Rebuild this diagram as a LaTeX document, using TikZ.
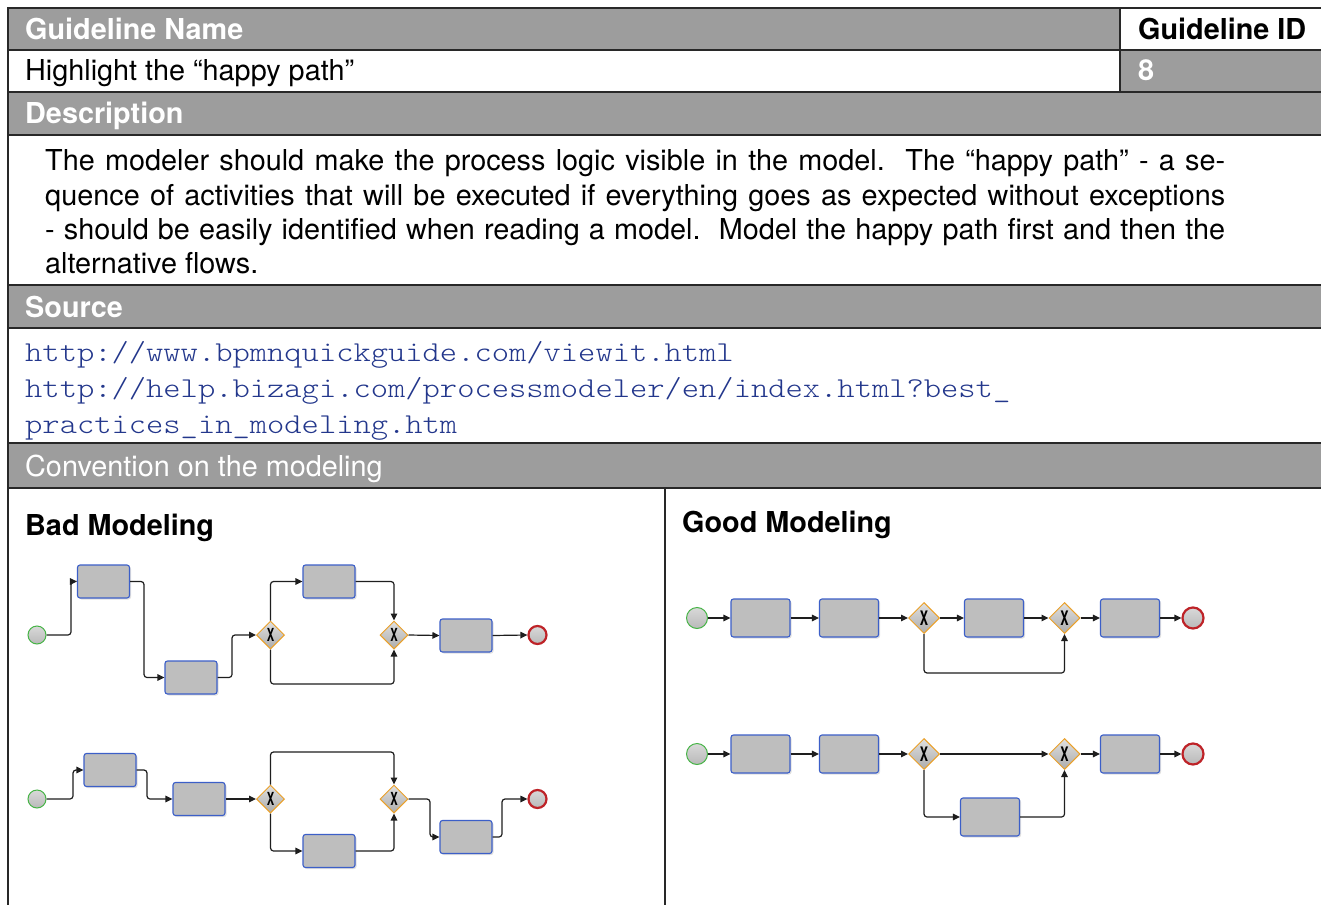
\documentclass[tikz,border=0pt]{standalone}
\usepackage{fontspec}
\setmainfont{TeX Gyre Heros}
\newfontfamily\urlfont[Extension=.otf,FakeStretch=1.143]{lmmonolt10-regular}
\usetikzlibrary{arrows.meta,shapes.geometric,shadows}

\definecolor{hdrgray}{RGB}{157,157,157}
\definecolor{rulecol}{RGB}{40,40,40}
\definecolor{urlblue}{RGB}{35,55,140}
\definecolor{taskfill}{RGB}{190,190,190}
\definecolor{taskedge}{RGB}{60,95,200}
\definecolor{gwedge}{RGB}{235,160,40}
\definecolor{startedge}{RGB}{70,180,70}
\definecolor{endedge}{RGB}{190,35,40}
\definecolor{flowcol}{RGB}{30,30,30}

\newcommand{\gwmark}{\scalebox{0.62}[1]{X}}

\tikzset{
  hdrtxt/.style={anchor=base west, inner sep=0pt, text=white,
    font=\fontsize{28.8}{34}\selectfont\bfseries},
  hdrlight/.style={anchor=base west, inner sep=0pt, text=white,
    font=\fontsize{28.8}{34}\selectfont},
  bodytxt/.style={anchor=base west, inner sep=0pt,
    font=\fontsize{28.8}{34}\selectfont},
  boldtxt/.style={anchor=base west, inner sep=0pt,
    font=\fontsize{28.8}{34}\selectfont\bfseries},
  urltxt/.style={anchor=base west, inner sep=0pt, text=urlblue,
    font=\fontsize{28.8}{34}\urlfont},
  rules/.style={draw=rulecol, line width=1.3pt},
  task/.style={rectangle, rounded corners=2.5pt, draw=taskedge, line width=1.1pt,
    fill=taskfill, inner sep=0pt,
    drop shadow={shadow xshift=1.5pt, shadow yshift=-1.5pt, opacity=0.25}},
  badtask/.style={task, minimum width=52pt, minimum height=33pt},
  goodtask/.style={task, minimum width=59pt, minimum height=38pt},
  gateway/.style={diamond, aspect=1, draw=gwedge, line width=1pt, inner sep=0pt,
    top color=gray!25, bottom color=gray!65},
  badgw/.style={gateway, minimum width=28pt, minimum height=28pt,
    font=\fontsize{18}{18}\selectfont\bfseries},
  goodgw/.style={gateway, minimum width=31pt, minimum height=31pt,
    font=\fontsize{20}{20}\selectfont\bfseries},
  event/.style={circle, inner sep=0pt, top color=gray!30, bottom color=gray!55},
  startev/.style={event, draw=startedge, line width=1pt},
  endev/.style={event, draw=endedge, line width=2.2pt},
  badev/.style={minimum size=18pt},
  goodev/.style={minimum size=21pt},
  flow/.style={draw=flowcol, line width=1.2pt, rounded corners=3pt,
    -{Triangle[length=7pt,width=6.5pt]}}
}

\begin{document}
\begin{tikzpicture}[x=1pt,y=-1pt]
\useasboundingbox (0,0) rectangle (1321,904);
\fill[white] (0,0) rectangle (1321,904);

% grey header bands
\fill[hdrgray] (8,8) rectangle (1120,50);
\fill[hdrgray] (1120,50) rectangle (1330,92);
\fill[hdrgray] (8,92) rectangle (1330,135);
\fill[hdrgray] (8,285) rectangle (1330,328);
\fill[hdrgray] (8,443) rectangle (1330,488);

% table rules
\foreach \yy in {8,50,92,135,285,328,443,488}
  \draw[rules] (7.35,\yy) -- (1330,\yy);
\draw[rules] (8,7.35) -- (8,910);
\draw[rules] (1120,8) -- (1120,92);
\draw[rules] (665,488) -- (665,910);

% header and body texts
\node[hdrtxt] (hname) at (25,39.5) {Guideline Name};
\node[boldtxt] (hid) at (1138,39.5) {Guideline ID};
\node[bodytxt] (gname) at (25,81) {Highlight the “happy path”};
\node[hdrtxt] (gid) at (1138,81) {8};
\node[hdrtxt] (hdesc) at (25,124) {Description};
\node[bodytxt] (d1) at (45,171) {\makebox[1180pt][s]{The modeler should make the process logic visible in the model.\ \ The “happy path” - a se-}};
\node[bodytxt] (d2) at (45,205) {\makebox[1180pt][s]{quence of activities that will be executed if everything goes as expected without exceptions}};
\node[bodytxt] (d3) at (45,239) {\makebox[1180pt][s]{- should be easily identified when reading a model.\ \ Model the happy path first and then the}};
\node[bodytxt] (d4) at (45,273) {alternative flows.};
\node[hdrtxt] (hsrc) at (25,317) {Source};
\node[urltxt] (u1) at (25,361) {http://www.bpmnquickguide.com/viewit.html};
\node[urltxt] (u2) at (25,397) {http://help.bizagi.com/processmodeler/en/index.html?best\_};
\node[urltxt] (u3) at (25,433) {practices\_in\_modeling.htm};
\node[hdrlight] (hconv) at (25,476) {Convention on the modeling};
\node[boldtxt] (hbad) at (25,535) {Bad Modeling};
\node[boldtxt] (hgood) at (682,532) {Good Modeling};

% ---- bad modeling, upper process ----
\node[startev,badev] (s1) at (37,635) {};
\node[badtask] (a1) at (103.5,581.5) {};
\node[badtask] (b1) at (191,677.5) {};
\node[badgw] (g1) at (270.5,635) {\gwmark};
\node[badtask] (c1) at (329,581.5) {};
\node[badgw] (g2) at (394,635) {\gwmark};
\node[badtask] (t1) at (466,635.5) {};
\node[endev,badev] (e1) at (537.5,635) {};

\draw[flow] (s1.east) -- (71,635) -- (71,581.5) -- (a1.west);
\draw[flow] (a1.east) -- (144,581.5) -- (144,677.5) -- (b1.west);
\draw[flow] (b1.east) -- (232,677.5) -- (232,635) -- (g1.west);
\draw[flow] (g1.north) |- (c1.west);
\draw[flow] (c1.east) -| (g2.north);
\draw[flow] (g1.south) -- (270.5,684) -| (g2.south);
\draw[flow] (g2.east) -- (t1.west);
\draw[flow] (t1.east) -- (e1.west);

% ---- bad modeling, lower process ----
\node[startev,badev] (s2) at (37,799) {};
\node[badtask] (a2) at (110,770) {};
\node[badtask] (b2) at (199,799) {};
\node[badgw] (g3) at (270.5,799) {\gwmark};
\node[badtask] (c2) at (329,851) {};
\node[badgw] (g4) at (394,799) {\gwmark};
\node[badtask] (t2) at (466,837) {};
\node[endev,badev] (e2) at (537.5,799) {};

\draw[flow] (s2.east) -- (73,799) -- (73,770) -- (a2.west);
\draw[flow] (a2.east) -- (147,770) -- (147,799) -- (b2.west);
\draw[flow] (b2.east) -- (g3.west);
\draw[flow] (g3.north) -- (270.5,752) -| (g4.north);
\draw[flow] (g3.south) |- (c2.west);
\draw[flow] (c2.east) -| (g4.south);
\draw[flow] (g4.east) -- (430,799) -- (430,837) -- (t2.west);
\draw[flow] (t2.east) -- (502,837) -- (502,799) -- (e2.west);

% ---- good modeling, upper process ----
\node[startev,goodev] (s3) at (697,618) {};
\node[goodtask] (a3) at (760.5,618) {};
\node[goodtask] (b3) at (849,618) {};
\node[goodgw] (g5) at (924,618) {\gwmark};
\node[goodtask] (c3) at (994,618) {};
\node[goodgw] (g6) at (1064.5,618) {\gwmark};
\node[goodtask] (t3) at (1130,618) {};
\node[endev,goodev] (e3) at (1193,618) {};

\draw[flow] (s3) -- (a3);
\draw[flow] (a3) -- (b3);
\draw[flow] (b3) -- (g5);
\draw[flow] (g5) -- (c3);
\draw[flow] (c3) -- (g6);
\draw[flow] (g6) -- (t3);
\draw[flow] (t3) -- (e3);
\draw[flow] (g5.south) -- (924,673) -| (g6.south);

% ---- good modeling, lower process ----
\node[startev,goodev] (s4) at (697,754) {};
\node[goodtask] (a4) at (760.5,754) {};
\node[goodtask] (b4) at (849,754) {};
\node[goodgw] (g7) at (924,754) {\gwmark};
\node[goodgw] (g8) at (1064.5,754) {\gwmark};
\node[goodtask] (c4) at (990,817) {};
\node[goodtask] (t4) at (1130,754) {};
\node[endev,goodev] (e4) at (1193,754) {};

\draw[flow] (s4) -- (a4);
\draw[flow] (a4) -- (b4);
\draw[flow] (b4) -- (g7);
\draw[flow] (g7) -- (g8);
\draw[flow] (g8) -- (t4);
\draw[flow] (t4) -- (e4);
\draw[flow] (g7.south) |- (c4.west);
\draw[flow] (c4.east) -| (g8.south);
\end{tikzpicture}
\end{document}
